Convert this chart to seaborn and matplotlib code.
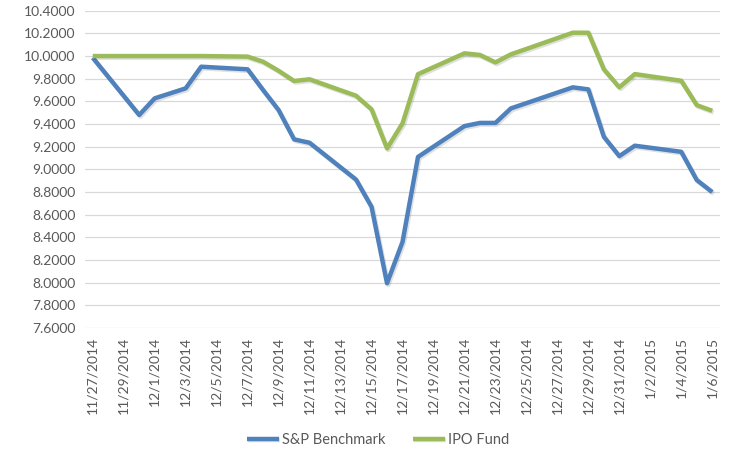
import matplotlib

matplotlib.use("Agg")
import matplotlib.dates as mdates
import matplotlib.patheffects as pe
import matplotlib.pyplot as plt
import pandas as pd
import seaborn as sns

dates = [
    "2014-11-27", "2014-11-30", "2014-12-01", "2014-12-03", "2014-12-04",
    "2014-12-07", "2014-12-08", "2014-12-09", "2014-12-10", "2014-12-11",
    "2014-12-14", "2014-12-15", "2014-12-16", "2014-12-17", "2014-12-18",
    "2014-12-21", "2014-12-22", "2014-12-23", "2014-12-24", "2014-12-28",
    "2014-12-29", "2014-12-30", "2014-12-31", "2015-01-01", "2015-01-04",
    "2015-01-05", "2015-01-06",
]
sp_benchmark = [
    9.985, 9.48, 9.627, 9.715, 9.906,
    9.883, 9.70, 9.523, 9.265, 9.235,
    8.91, 8.67, 7.995, 8.36, 9.11,
    9.382, 9.41, 9.41, 9.538, 9.724,
    9.706, 9.288, 9.117, 9.209, 9.155,
    8.906, 8.80,
]
ipo_fund = [
    10.0, 10.0, 10.0, 10.0, 10.0,
    9.995, 9.95, 9.87, 9.78, 9.795,
    9.65, 9.53, 9.185, 9.406, 9.84,
    10.024, 10.01, 9.944, 10.015, 10.206,
    10.206, 9.883, 9.724, 9.841, 9.782,
    9.567, 9.517,
]
series_names = ["S&P Benchmark", "IPO Fund"]
colors = ["#4F81BD", "#9BBB59"]

df = pd.DataFrame({"date": pd.to_datetime(dates), series_names[0]: sp_benchmark, series_names[1]: ipo_fund})
long_df = df.melt(id_vars="date", var_name="series", value_name="value")

sns.set_style("white")
plt.rcParams["font.family"] = ["Lato", "DejaVu Sans"]

fig = plt.figure(figsize=(7.38, 4.66), dpi=100)
ax = fig.add_axes([0.1152, 0.296, 0.8604, 0.681])

sns.lineplot(
    data=long_df, x="date", y="value", hue="series", hue_order=series_names,
    palette=colors, linewidth=3.2, ax=ax, legend=True,
)
# soft drop shadow like the Excel lines
for line in ax.lines:
    line.set_solid_capstyle("butt")
    line.set_path_effects([
        pe.SimpleLineShadow(offset=(1.0, -1.2), alpha=0.12, shadow_color="black"),
        pe.Normal(),
    ])

ax.set_ylim(7.6, 10.4)
ax.set_yticks([7.6 + 0.2 * i for i in range(15)])
ax.yaxis.set_major_formatter(matplotlib.ticker.FormatStrFormatter("%.4f"))

start = df["date"].iloc[0]
end = df["date"].iloc[-1]
ax.set_xlim(start - pd.Timedelta(hours=12), end + pd.Timedelta(hours=12))
ticks = pd.date_range(start, end, freq="2D")
ax.set_xticks(ticks)
ax.set_xticklabels([f"{d.month}/{d.day}/{d.year}" for d in ticks], rotation=90)

ax.grid(axis="y", color="#D9D9D9", linewidth=0.9)
ax.grid(axis="x", visible=False)
for s in ax.spines.values():
    s.set_visible(False)
ax.tick_params(axis="both", length=0, labelsize=10, colors="#595959", pad=6)
ax.tick_params(axis="y", pad=7)
ax.set_xlabel("")
ax.set_ylabel("")

handles, labels = ax.get_legend_handles_labels()
ax.legend_.remove()
for h in handles:
    h.set_linewidth(3.2)
fig.legend(
    handles, labels, loc="center", bbox_to_anchor=(0.512, 0.056), ncol=2,
    frameon=False, fontsize=10.5, labelcolor="#595959", handlelength=2.2,
    handletextpad=0.2, columnspacing=1.9,
)

fig.savefig("out.png", dpi=100)
